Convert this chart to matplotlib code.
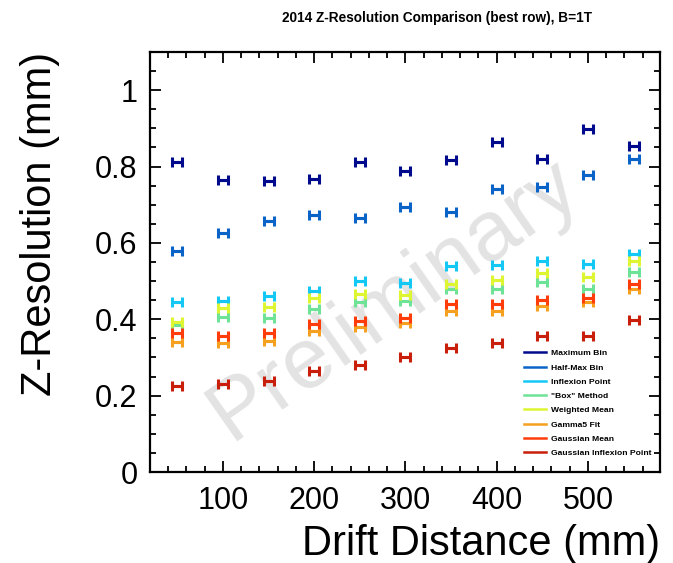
import matplotlib
matplotlib.use("Agg")
import matplotlib.pyplot as plt
from matplotlib.ticker import MultipleLocator

plt.rcParams['font.family'] = ['Liberation Sans', 'DejaVu Sans']

drift = [50, 100, 150, 200, 250, 300, 350, 400, 450, 500, 550]

max_bin = [0.812, 0.764, 0.762, 0.767, 0.812, 0.789, 0.818, 0.863, 0.821, 0.898, 0.855]
half_max = [0.579, 0.625, 0.657, 0.673, 0.666, 0.694, 0.680, 0.742, 0.746, 0.777, 0.819]
inflexion = [0.444, 0.447, 0.462, 0.474, 0.500, 0.495, 0.540, 0.541, 0.552, 0.544, 0.572]
box_method = [0.384, 0.407, 0.404, 0.428, 0.444, 0.447, 0.480, 0.478, 0.497, 0.480, 0.524]
weighted_mean = [0.394, 0.430, 0.433, 0.457, 0.465, 0.463, 0.493, 0.504, 0.521, 0.511, 0.552]
gamma5 = [0.340, 0.339, 0.344, 0.370, 0.381, 0.391, 0.421, 0.421, 0.435, 0.444, 0.479]
gauss_mean = [0.363, 0.356, 0.363, 0.388, 0.395, 0.404, 0.439, 0.439, 0.451, 0.457, 0.493]
gauss_inflexion = [0.225, 0.230, 0.239, 0.265, 0.281, 0.300, 0.326, 0.337, 0.356, 0.356, 0.397]

series = [
    ("Maximum Bin", max_bin, "#000a8c"),
    ("Half-Max Bin", half_max, "#0a64c8"),
    ("Inflexion Point", inflexion, "#14c8f5"),
    ('"Box" Method', box_method, "#6ee296"),
    ("Weighted Mean", weighted_mean, "#def532"),
    ("Gamma5 Fit", gamma5, "#f5a01e"),
    ("Gaussian Mean", gauss_mean, "#ff3c0a"),
    ("Gaussian Inflexion Point", gauss_inflexion, "#c81e0a"),
]

fig = plt.figure(figsize=(6.73, 5.63), dpi=100)
ax = fig.add_axes([150 / 673, (563 - 472) / 563, 510 / 673, 420 / 563])

# watermark behind the points
ax.text(0.48, 0.41, "Preliminary", transform=ax.transAxes, rotation=35,
        fontsize=62, color="#e3e3e3", ha="center", va="center", zorder=0)

handles = []
for name, vals, col in series:
    ax.errorbar(drift, vals, xerr=5.5, yerr=0, fmt="none", ecolor=col,
                elinewidth=2, capsize=3.6, capthick=2.2, zorder=3)
    h, = ax.plot([], [], color=col, lw=1.8, label=name)
    handles.append(h)

ax.set_xlim(20, 579)
ax.set_ylim(0, 1.1)
ax.xaxis.set_major_locator(MultipleLocator(100))
ax.xaxis.set_minor_locator(MultipleLocator(20))
ax.yaxis.set_major_locator(MultipleLocator(0.2))
ax.yaxis.set_minor_locator(MultipleLocator(0.05))
ax.yaxis.set_major_formatter(lambda v, p: "0" if abs(v) < 1e-9 else ("1" if abs(v - 1) < 1e-9 else f"{v:.1f}"))

ax.tick_params(which="both", direction="in", top=True, right=True, width=1.3,
               labelsize=22, colors="black")
ax.tick_params(which="major", length=8)
ax.tick_params(axis="y", which="major", pad=9)
ax.tick_params(axis="x", which="major", pad=10)
ax.tick_params(which="minor", length=4.5)
for s in ax.spines.values():
    s.set_linewidth(1.6)

fig.text(437 / 673, 1 - 18 / 563, "2014 Z-Resolution Comparison (best row), B=1T",
         fontsize=9.8, fontweight="bold", ha="center", va="center")
ax.set_xlabel("Drift Distance (mm)", fontsize=30, loc="right", labelpad=6)
ax.set_ylabel("Z-Resolution (mm)", fontsize=30, loc="top", labelpad=25)

ax.legend(handles=handles, loc="upper left", bbox_to_anchor=(0.733, 0.292),
          frameon=False, borderpad=0, borderaxespad=0,
          prop={"size": 6.1, "weight": "bold"}, labelspacing=0.75,
          handlelength=2.6, handletextpad=0.6)

fig.savefig("out.png", dpi=100)
